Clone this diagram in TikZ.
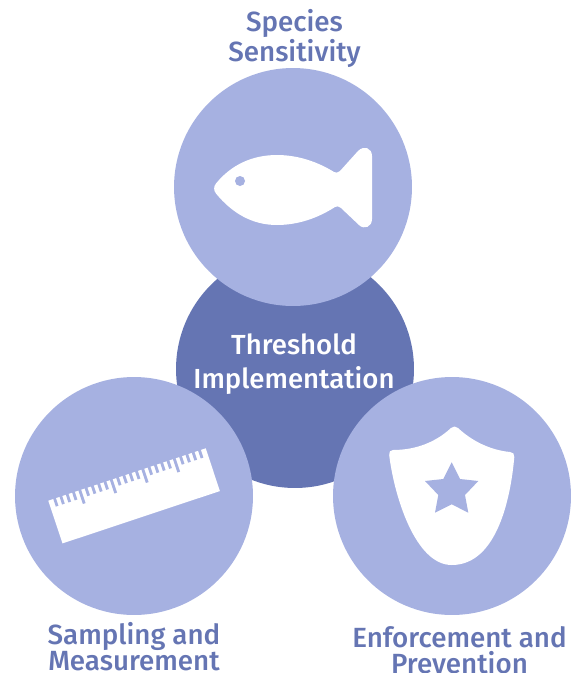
\documentclass[tikz,border=0pt]{standalone}
\usepackage{fontspec}
\setmainfont{Fira Sans}[UprightFont=* Medium]
\definecolor{darkblue}{HTML}{6575B3}
\definecolor{lightblue}{HTML}{A6B1E1}
\tikzstyle{bigdisc} = [circle, draw=none, fill=lightblue, minimum size=4.76cm, inner sep=0pt]
\tikzstyle{centerdisc} = [bigdisc, fill=darkblue]
\tikzstyle{outerlabel} = [text=darkblue, inner sep=0pt, font=\fontsize{15.8}{14.8}\selectfont, align=center]
\tikzstyle{centerlabel} = [text=white, inner sep=0pt, font=\fontsize{15.7}{19.4}\selectfont, align=center]
\tikzstyle{icon} = [fill=white, draw=none]

\begin{document}
\begin{tikzpicture}[x=0.02cm, y=-0.02cm]
\useasboundingbox (0,0) rectangle (580,673);
\node [centerdisc] (threshold) at (295,369) {};
\node [bigdisc] (species) at (293,187) {};
\node [bigdisc] (sampling) at (134,496) {};
\node [bigdisc] (enforcement) at (452,496) {};
\node [centerlabel] (thresholdtext) at (294,364) {Threshold\\Implementation};
\node [outerlabel] (speciestext) at (294.5,38.5) {Species\\Sensitivity};
\node [outerlabel] (samplingtext) at (134,646.5) {Sampling and\\Measurement};
\node [outerlabel] (enforcementtext) at (459.5,650.5) {Enforcement and\\Prevention};
% fish
\fill [icon] (216,183.5)
  .. controls (231,165) and (252,155) .. (277,155)
  .. controls (298,155) and (318,162) .. (334,172)
  .. controls (336,173) and (338,173) .. (340,171)
  -- (358,151)
  .. controls (364,145) and (372,148) .. (372,156)
  -- (372,219)
  .. controls (372,227) and (364,230) .. (359,225)
  -- (341,208)
  .. controls (339,206) and (337,206) .. (335,207)
  .. controls (318,218) and (298,225) .. (277,225)
  .. controls (252,225) and (232,213) .. (216,193.5)
  .. controls (213.5,190.5) and (213.5,186.5) .. (216,183.5) -- cycle;
\fill [lightblue] (240,181) circle (5);
% ruler
\begin{scope}[shift={(48.3,500.7)}, rotate=18.4]
  \fill [icon] (0,0) rectangle (165.9,45);
  \foreach \t in {1,...,24} {
    \pgfmathsetmacro{\depth}{ifthenelse(mod(\t,5)==0,14,8)}
    \fill [lightblue] ({\t*6.64-1.4},-0.5) rectangle ({\t*6.64+1.4},\depth);
  }
\end{scope}
% shield
\fill [icon] (451,428)
  .. controls (453,426) and (456,426) .. (458,428)
  .. controls (472,441) and (490,450) .. (510,452)
  .. controls (513,452) and (514.5,454) .. (514.3,457)
  .. controls (511,495) and (498,565) .. (451.7,565)
  .. controls (415,565) and (394,495) .. (389.2,455)
  .. controls (389,452) and (390,450) .. (393,450)
  .. controls (416,450) and (436,442) .. (451,428) -- cycle;
\fill [lightblue] (451.7,462.3) -- (460,479) -- (478.3,481) -- (465,495) -- (468.3,512.7)
  -- (451.7,504.3) -- (435,512.7) -- (438.3,495) -- (425,481) -- (443.3,479) -- cycle;
\end{tikzpicture}
\end{document}
